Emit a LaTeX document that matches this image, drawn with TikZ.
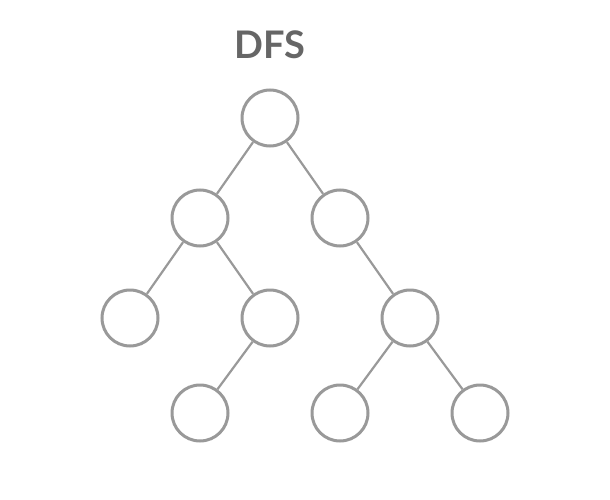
\documentclass[tikz,border=0pt]{standalone}
\usepackage{fontspec}
\setmainfont{Lato}
\begin{document}
\begin{tikzpicture}[x=1pt,y=-1pt,
  vert/.style={circle,draw=black!40,line width=3pt,minimum size=56pt,inner sep=0pt,fill=white},
  edge/.style={draw=black!40,line width=2.2pt}]
\useasboundingbox (0,0) rectangle (610,500);
\node[font=\bfseries\fontsize{38}{40}\selectfont,text=black!60] (title) at (270,45) {DFS};
\node[vert] (a) at (270,118) {};
\node[vert] (b) at (200,218) {};
\node[vert] (c) at (340,218) {};
\node[vert] (d) at (130,318) {};
\node[vert] (e) at (270,318) {};
\node[vert] (f) at (410,318) {};
\node[vert] (g) at (200,413) {};
\node[vert] (h) at (340,413) {};
\node[vert] (i) at (480,413) {};
\draw[edge] (a) -- (b);
\draw[edge] (a) -- (c);
\draw[edge] (b) -- (d);
\draw[edge] (b) -- (e);
\draw[edge] (c) -- (f);
\draw[edge] (e) -- (g);
\draw[edge] (f) -- (h);
\draw[edge] (f) -- (i);
\end{tikzpicture}
\end{document}
